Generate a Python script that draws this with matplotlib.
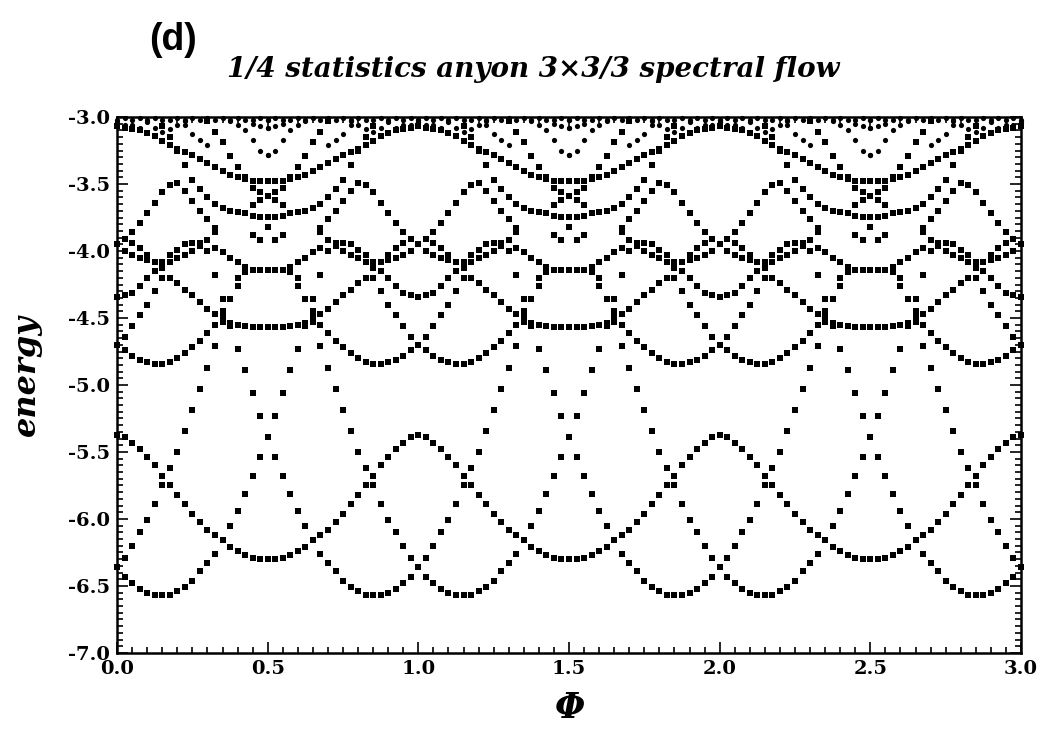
import numpy as np
import matplotlib
matplotlib.use("Agg")
import matplotlib.pyplot as plt
from matplotlib.ticker import MultipleLocator

# flux grid for one half period (0 .. 0.5); the spectrum repeats with
# period 1 and is mirror symmetric about every half integer
phi_half = [0.0, 0.025, 0.05, 0.075, 0.1, 0.125, 0.15, 0.175, 0.2, 0.225, 0.25,
            0.275, 0.3, 0.325, 0.35, 0.375, 0.4, 0.425, 0.45, 0.475, 0.5]
nan = np.nan

# energy levels, one list per visible branch
lvl_a = [-6.36, -6.43, -6.48, -6.52, -6.55, -6.57, -6.57, -6.57, -6.54, -6.51, -6.46,
         -6.39, -6.33, -6.26, -6.16, -6.05, -5.94, -5.81, -5.68, -5.54, -5.39]
lvl_a2 = [nan, nan, nan, nan, nan, nan, nan, nan, nan, nan, nan,
          nan, nan, nan, nan, -4.56, -4.73, -4.89, -5.06, -5.23, nan]
lvl_b = [-5.37, -5.39, -5.43, -5.48, -5.54, -5.60, -5.68, -5.75, -5.82, -5.89, -5.96,
         -6.02, -6.08, -6.12, -6.16, -6.21, -6.24, -6.27, -6.29, -6.30, -6.30]
lvl_c = [nan, -6.29, -6.20, -6.10, -6.01, -5.89, -5.75, -5.62, -5.50, -5.34, -5.19,
         -5.03, -4.87, -4.71, -4.45, nan, nan, nan, nan, nan, nan]
lvl_e = [-4.70, -4.74, -4.78, -4.81, -4.83, -4.84, -4.84, -4.83, -4.80, -4.76, -4.72,
         -4.67, -4.61, -4.55, -4.49, nan, nan, nan, nan, nan, nan]
lvl_f = [-4.34, -4.33, -4.31, -4.26, -4.20, -4.15, -4.13, -4.20, -4.24, -4.29, -4.33,
         -4.38, -4.43, -4.47, -4.53, -4.54, -4.55, -4.56, -4.565, -4.57, -4.57]
lvl_g = [nan, -4.64, -4.56, -4.48, -4.40, -4.30, -4.20, -4.08, -3.99, -3.95, -3.94,
         -3.94, -3.92, -3.86, nan, nan, nan, nan, nan, nan, nan]
lvl_r = [nan, nan, nan, nan, nan, nan, nan, nan, nan, nan, nan,
         nan, nan, -4.18, -4.36, -4.36, -4.20, nan, nan, nan, nan]
lvl_r2 = [nan, nan, nan, nan, nan, nan, nan, nan, nan, nan, nan,
          nan, nan, nan, nan, nan, -4.26, -4.16, nan, nan, nan]
lvl_q = [-3.95, -4.00, -4.03, -4.05, -4.07, -4.08, -4.08, -4.03, -4.05, -4.03, -4.00,
         -3.96, -4.00, -3.98, -4.01, -4.05, -4.08, -4.12, -4.14, -4.14, -4.14]
lvl_q2 = [nan, nan, -3.94, -3.98, -4.03, nan, nan, nan, nan, nan, nan,
          nan, nan, nan, nan, nan, nan, nan, nan, nan, nan]
lvl_h = [nan, -3.91, -3.86, -3.79, -3.72, -3.64, -3.56, -3.51, -3.49, -3.55, -3.63,
         -3.70, -3.76, -3.83, nan, nan, nan, nan, nan, nan, nan]
lvl_w = [nan, nan, nan, nan, nan, nan, nan, nan, nan, nan, nan,
         nan, nan, nan, nan, nan, nan, nan, -3.88, -3.92, -3.82]
lvl_m = [nan, nan, nan, nan, nan, nan, -3.07, -3.15, -3.25, -3.36, -3.47,
         -3.54, -3.60, -3.65, -3.68, -3.70, -3.71, -3.72, -3.74, -3.745, -3.745]
lvl_k = [nan, nan, nan, nan, nan, nan, nan, nan, nan, nan, nan,
         nan, -3.03, -3.11, -3.19, -3.29, -3.37, -3.45, -3.53, -3.56, -3.59]
lvl_k2 = [nan, nan, nan, nan, nan, nan, nan, nan, nan, nan, nan,
          nan, nan, nan, nan, nan, nan, nan, -3.66, -3.62, nan]
lvl_d = [-3.07, -3.08, -3.09, -3.10, -3.12, -3.14, -3.18, -3.21, -3.24, -3.26, -3.28,
         -3.31, -3.34, -3.37, -3.40, -3.43, -3.445, -3.46, -3.475, -3.48, -3.48]

# small round dots crowding the top of the window
lvl_j = [nan, nan, nan, nan, nan, nan, nan, nan, nan, nan, nan,
         nan, nan, nan, nan, -3.03, -3.06, -3.10, -3.17, -3.25, -3.28]
lvl_l = [nan, nan, nan, nan, nan, nan, nan, nan, nan, -3.06, -3.13,
         -3.17, -3.21, nan, nan, nan, nan, nan, nan, nan, nan]
lvl_t0 = [-3.02, -3.01, -3.02, -3.01, -3.02, -3.01, -3.02, -3.02, -3.01, -3.02, -3.01,
          -3.02, -3.01, -3.02, -3.01, -3.02, -3.01, -3.02, -3.02, -3.01, -3.02]
lvl_t1 = [-3.04, -3.06, -3.06, -3.08, -3.04, -3.08, -3.11, -3.09, -3.06, -3.03, nan,
          nan, nan, nan, nan, nan, nan, nan, -3.05, -3.07, -3.08]

square_levels = [lvl_a, lvl_a2, lvl_b, lvl_c, lvl_e, lvl_f, lvl_g, lvl_r, lvl_r2,
                 lvl_q, lvl_q2, lvl_h, lvl_w, lvl_m, lvl_k, lvl_k2, lvl_d]
dot_levels = [lvl_j, lvl_l, lvl_t0, lvl_t1]


def unfold(levels):
    """
    Spreads the half period branches over 0..3 using the mirror symmetry
    about 0.5 and the period 1 of the spectrum.
    """
    xs, ys = [], []
    half = np.array(phi_half)
    for lv in levels:
        e = np.array(lv)
        for k in range(3):
            xs.append(k + half)
            ys.append(e)
            xs.append(k + 1 - half)
            ys.append(e)
    xs = np.concatenate(xs)
    ys = np.concatenate(ys)
    keep = ~np.isnan(ys) & (xs >= 0) & (xs <= 3)
    return xs[keep], ys[keep]


fig = plt.figure(figsize=(10.46, 7.30), dpi=100)
ax = fig.add_axes([0.1119, 0.1055, 0.8642, 0.7342])

# squares for the bulk of the spectrum, round dots near the top edge
sx, sy = unfold(square_levels)
ax.scatter(sx, sy, marker="s", s=22, color="black", linewidths=0, clip_on=False, zorder=3)
dx, dy = unfold(dot_levels)
ax.scatter(dx, dy, marker="o", s=14, color="black", linewidths=0, clip_on=False, zorder=3)

ax.set_xlim(0, 3)
ax.set_ylim(-7, -3)
ax.xaxis.set_major_locator(MultipleLocator(0.5))
ax.xaxis.set_minor_locator(MultipleLocator(0.05))
ax.yaxis.set_major_locator(MultipleLocator(0.5))
ax.yaxis.set_minor_locator(MultipleLocator(0.05))
ax.tick_params(which="both", direction="in", top=True, right=True, width=1.2)
ax.tick_params(which="major", length=8)
ax.tick_params(which="minor", length=4)
for sp in ax.spines.values():
    sp.set_linewidth(1.8)

tick_font = dict(family="DejaVu Serif", weight="bold", size=14)
ax.set_xticks([0, 0.5, 1.0, 1.5, 2.0, 2.5, 3.0])
ax.set_xticklabels(["0.0", "0.5", "1.0", "1.5", "2.0", "2.5", "3.0"], fontdict=tick_font)
ax.set_yticks([-7.0, -6.5, -6.0, -5.5, -5.0, -4.5, -4.0, -3.5, -3.0])
ax.set_yticklabels(["-7.0", "-6.5", "-6.0", "-5.5", "-5.0", "-4.5", "-4.0", "-3.5", "-3.0"],
                   fontdict=tick_font)
ax.tick_params(axis="x", pad=5)
ax.tick_params(axis="y", pad=5)

ax.set_xlabel("Φ", family="DejaVu Serif", weight="bold", style="italic", size=25)
ax.xaxis.set_label_coords(0.501, -0.07)
ax.set_ylabel("energy", family="DejaVu Serif", weight="bold", style="italic", size=23)
ax.yaxis.set_label_coords(-0.083, 0.519)

fig.text(0.143, 0.970, "(d)", family="Liberation Sans", weight="bold", size=27, va="top")
fig.text(0.217, 0.894, "1/4 statistics anyon 3×3/3 spectral flow", family="DejaVu Serif",
         weight="bold", style="italic", size=20)

fig.savefig("out.png", dpi=100)
